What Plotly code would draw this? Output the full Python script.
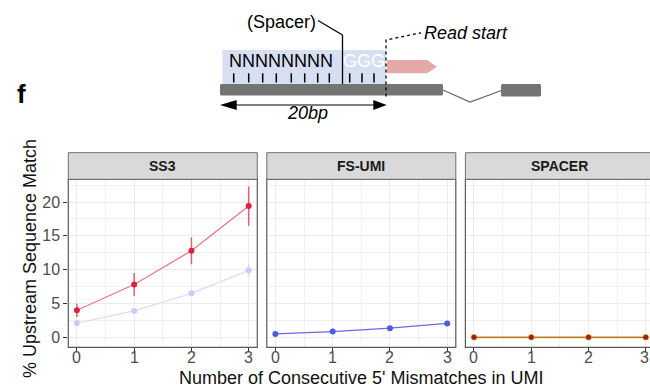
import plotly.graph_objects as go

# ---------------- data ----------------
mismatches = [0, 1, 2, 3]
panels = ["SS3", "FS-UMI", "SPACER"]

ss3_main = [4.0, 7.8, 12.8, 19.4]
ss3_main_err = [1.0, 1.7, 2.0, 2.9]
ss3_alt = [2.1, 3.9, 6.5, 9.9]
ss3_alt_err = [0.2, 0.3, 0.4, 0.9]
fsumi_vals = [0.5, 0.85, 1.35, 2.05]
fsumi_err = [0.05, 0.08, 0.1, 0.12]
spacer_vals = [0.0, 0.0, 0.0, 0.0]

y_ticks = [0, 5, 10, 15, 20]
x_ticks = [0, 1, 2, 3]

# ---------------- geometry helpers (pixel -> paper) ----------------
W, H = 650, 387
FONT = "Liberation Sans, Arial, sans-serif"


def px(x):
    return x / W


def py(y):
    return 1 - y / H


# facet panel boxes in pixels (left, right); shared top / bottom
panel_lr = [(68.3, 257.3), (266.8, 455.8), (465.4, 654.4)]
panel_top, panel_bottom = 179.3, 347.3
strip_top = 152.7
x_range = [-0.15, 3.15]
y_range = [-1.48, 23.36]

fig = go.Figure()

# ---------------- traces ----------------
RED = "#D9243F"
LAV = "#D6C6FF"
BLUE = "#4F5BE3"
OLIVE = "#D2C13A"
DARKRED = "#9E1D1D"

fig.add_trace(go.Scatter(
    x=mismatches, y=ss3_alt, mode="lines+markers", xaxis="x", yaxis="y",
    line=dict(color="#E3D8FF", width=1.3),
    marker=dict(color=LAV, size=6),
    error_y=dict(type="data", array=ss3_alt_err, color="#E3D8FF", thickness=1.5, width=0),
    showlegend=False,
))
fig.add_trace(go.Scatter(
    x=mismatches, y=ss3_main, mode="lines+markers", xaxis="x", yaxis="y",
    line=dict(color="#E7788A", width=1.3),
    marker=dict(color=RED, size=6),
    error_y=dict(type="data", array=ss3_main_err, color="#E06078", thickness=1.5, width=0),
    showlegend=False,
))
fig.add_trace(go.Scatter(
    x=mismatches, y=fsumi_vals, mode="lines+markers", xaxis="x2", yaxis="y2",
    line=dict(color="#6E66E6", width=1.3),
    marker=dict(color=BLUE, size=6),
    error_y=dict(type="data", array=fsumi_err, color="#6E66E6", thickness=1.2, width=0),
    showlegend=False,
))
fig.add_trace(go.Scatter(
    x=mismatches, y=spacer_vals, mode="lines+markers", xaxis="x3", yaxis="y3",
    line=dict(color=OLIVE, width=1.8),
    marker=dict(color=OLIVE, size=6.5),
    showlegend=False,
))
fig.add_trace(go.Scatter(
    x=mismatches, y=spacer_vals, mode="lines+markers", xaxis="x3", yaxis="y3",
    line=dict(color=DARKRED, width=0.6),
    marker=dict(color=DARKRED, size=5),
    showlegend=False,
))

# ---------------- axes ----------------
grid_major = "#EBEBEB"
grid_minor = "#F0F0F0"
TICK_SIZE = 16
tick_font = dict(family=FONT, size=TICK_SIZE, color="#4D4D4D")

shapes = []
annotations = []

dom_y = [py(panel_bottom), py(panel_top)]
half_glyph = 0.556 * TICK_SIZE / 2
for i, (l, r) in enumerate(panel_lr):
    sfx = "" if i == 0 else str(i + 1)
    right = min(r, W)
    upp = (x_range[1] - x_range[0]) / (r - l)   # data units per pixel
    xr = list(x_range)
    if r > W:
        # panel runs past the page edge: trim the visible range
        xr[1] = x_range[0] + (right - l) * upp
    fig.layout["xaxis" + sfx] = dict(
        domain=[px(l), px(right)], range=xr, anchor="y" + sfx,
        tickvals=x_ticks, showticklabels=False,
        ticks="outside", ticklen=4, tickwidth=1, tickcolor="#333333",
        showline=False, zeroline=False,
        showgrid=True, gridcolor=grid_major, gridwidth=1.2,
        minor=dict(dtick=0.5, tick0=0, showgrid=True, gridcolor=grid_minor, gridwidth=0.9),
    )
    fig.layout["yaxis" + sfx] = dict(
        domain=dom_y, range=y_range, anchor="x" + sfx,
        tickvals=y_ticks, ticktext=[str(v) for v in y_ticks],
        ticks="outside" if i == 0 else "", ticklen=4, tickwidth=1, tickcolor="#333333",
        showticklabels=(i == 0), tickfont=tick_font,
        showline=False, zeroline=False,
        showgrid=True, gridcolor=grid_major, gridwidth=1.2,
        minor=dict(dtick=2.5, tick0=0, showgrid=True, gridcolor=grid_minor, gridwidth=0.9),
    )
    # x tick labels, positioned through each panel's x scale; a label that
    # would run past the page edge is pinned flush to the right edge
    for v in x_ticks:
        xpix = l + (v - x_range[0]) / upp
        if xpix + half_glyph > W:
            xa, xpos = "right", 1.0
        else:
            xa, xpos = "center", px(xpix)
        annotations.append(dict(text=str(v), xref="paper", yref="paper",
                                x=xpos, y=py(357.5), xanchor=xa, yanchor="middle",
                                borderpad=0, showarrow=False, font=tick_font))

# panel borders and strips
for (l, r), name in zip(panel_lr, panels):
    shapes.append(dict(type="rect", xref="paper", yref="paper", layer="above",
                       x0=px(l), x1=px(r), y0=py(panel_bottom), y1=py(panel_top),
                       line=dict(color="#5A5A5A", width=1.2), fillcolor="rgba(0,0,0,0)"))
    shapes.append(dict(type="rect", xref="paper", yref="paper",
                       x0=px(l), x1=px(r), y0=py(panel_top), y1=py(strip_top),
                       line=dict(color="#6E6E6E", width=1), fillcolor="#D9D9D9"))
    annotations.append(dict(text="<b>%s</b>" % name, xref="paper", yref="paper",
                            x=px((l + r) / 2), y=py((strip_top + panel_top) / 2),
                            xanchor="center", yanchor="middle", showarrow=False,
                            font=dict(family=FONT, size=14, color="#1A1A1A")))

# axis titles
annotations.append(dict(text="Number of Consecutive 5' Mismatches in UMI", xref="paper", yref="paper",
                        x=px(361.5), y=py(377.5), xanchor="center", yanchor="middle", showarrow=False,
                        font=dict(family=FONT, size=18, color="#111111")))
annotations.append(dict(text="% Upstream Sequence Match", xref="paper", yref="paper",
                        x=px(30), y=py(259), xanchor="center", yanchor="middle", showarrow=False,
                        textangle=-90, font=dict(family=FONT, size=18, color="#111111")))

# ---------------- read-structure diagram ----------------
def line(x0, y0, x1, y1, color="#000000", width=1.3, dash="solid"):
    shapes.append(dict(type="line", xref="paper", yref="paper",
                       x0=px(x0), y0=py(y0), x1=px(x1), y1=py(y1),
                       line=dict(color=color, width=width, dash=dash)))


def poly(points, fill, color=None, width=0, dash="solid"):
    d = "M " + " L ".join("%f,%f" % (px(x), py(y)) for x, y in points) + " Z"
    shapes.append(dict(type="path", xref="paper", yref="paper", path=d,
                       fillcolor=fill, line=dict(color=color or fill, width=width, dash=dash)))


def text(s, x, y, size=18, color="#000000", bold=False, italic=False):
    if bold:
        s = "<b>%s</b>" % s
    if italic:
        s = "<i>%s</i>" % s
    annotations.append(dict(text=s, xref="paper", yref="paper", x=px(x), y=py(y),
                            xanchor="center", yanchor="middle", showarrow=False,
                            font=dict(family=FONT, size=size, color=color)))


# UMI + spacer region
poly([(222.5, 50), (386, 50), (386, 84), (222.5, 84)], "#D7DFF3")
# read arrow
poly([(387, 60), (427, 60), (437, 66.7), (427, 73.3), (387, 73.3)], "#E3A8A8")
# exons and intron
poly([(221, 84), (442, 84), (443, 85), (443, 94.5), (442, 95.5), (221, 95.5), (220, 94.5), (220, 85)], "#747474")
poly([(502, 84), (540, 84), (541, 85), (541, 95.5), (540, 96.5), (502, 96.5), (501, 95.5), (501, 85)], "#747474")
shapes.append(dict(type="path", xref="paper", yref="paper",
                   path="M %f,%f L %f,%f L %f,%f" % (px(443), py(90), px(470), py(102), px(501.5), py(90.5)),
                   line=dict(color="#666666", width=1.3)))
# base ticks
for tx in [233.7, 248.7, 262.7, 276.3, 291.3, 304.7, 317.7, 329.3, 349.7, 362.0, 374.0]:
    line(tx, 73.3, tx, 82.5, width=1.5)
# spacer pointer
line(318, 20.5, 342.5, 35)
line(342.5, 35, 342.5, 84)
# read start pointer
shapes.append(dict(type="path", xref="paper", yref="paper",
                   path="M %f,%f L %f,%f L %f,%f" % (px(386), py(96.5), px(386), py(40), px(421), py(32.8)),
                   line=dict(color="#000000", width=1.3, dash="dot")))
# 20bp span
line(234, 105, 374, 105, width=1.2)
poly([(220, 105), (236.7, 100), (236.7, 110)], "#000000")
poly([(386.7, 105), (373.3, 100), (373.3, 110)], "#000000")

text("(Spacer)", 281, 21.5)
text("Read start", 466, 33.5, italic=True)
text("NNNNNNNN", 280.5, 61)
text("GGG", 364, 61, color="#FFFFFF")
text("20bp", 307, 113, italic=True)
text("f", 21.7, 94, size=26, bold=True)

fig.update_layout(
    width=W, height=H,
    margin=dict(l=0, r=0, t=0, b=0),
    paper_bgcolor="#FFFFFF", plot_bgcolor="#FFFFFF",
    shapes=shapes, annotations=annotations,
    showlegend=False,
)

fig.write_html("out.html")
